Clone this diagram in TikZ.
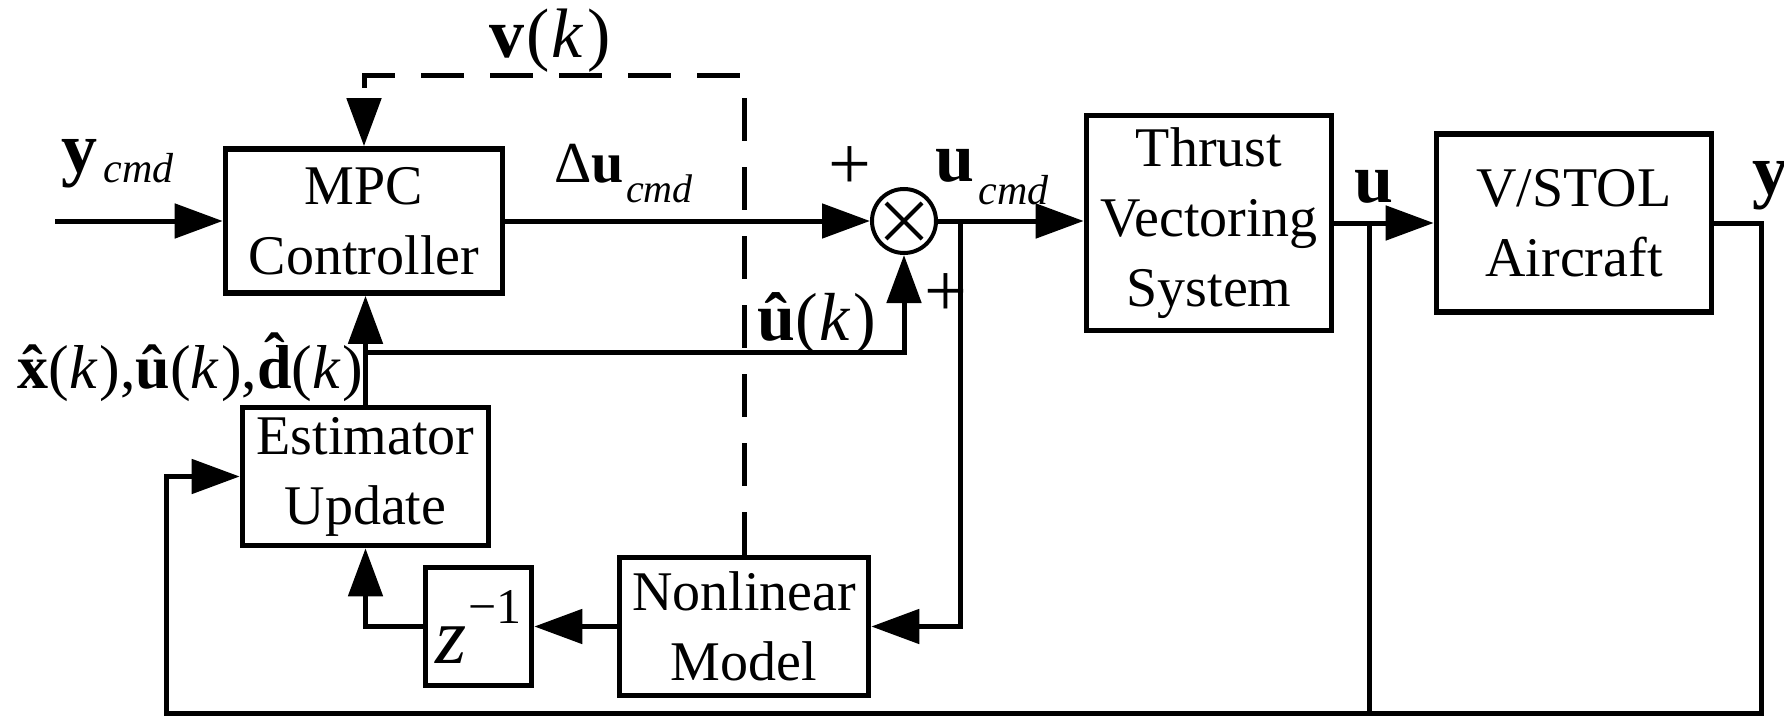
\documentclass[tikz,border=0pt]{standalone}
\usepackage{fontspec}
\setmainfont{Liberation Serif}
\usetikzlibrary{arrows.meta,calc}
\newcommand{\bsz}[1]{\fontsize{#1}{#1}\selectfont}
\newcommand{\hatc}[2]{{\ooalign{#1\cr\hidewidth\raisebox{#2}{ˆ}\hidewidth\cr}}}
\begin{document}
\begin{tikzpicture}[x=0.5pt,y=-0.5pt,
  line width=2.5pt,
  blk/.style={draw,line width=2.8pt,inner sep=0pt,align=center,font=\fontsize{28}{35}\selectfont},
  arr/.style={-{Triangle[length=24pt,width=17pt]}},
  lbl/.style={inner sep=0pt,anchor=base west},
  sgn/.style={inner sep=0pt,anchor=center,font=\fontsize{38}{38}\selectfont},
  dsh/.style={dash pattern=on 21.5pt off 13pt},
]
\useasboundingbox (0,0) rectangle (1784,717);

% blocks
\node[blk,minimum width=138.5pt,minimum height=72pt] (mpc) at (364,221) {MPC\\Controller};
\node[blk,minimum width=122.5pt,minimum height=107.5pt] (tvs) at (1209,223) {Thrust\\Vectoring\\System};
\node[blk,minimum width=137.5pt,minimum height=89pt] (vstol) at (1574,223) {V/STOL\\Aircraft};
\node[blk,minimum width=123pt,minimum height=69pt] (est) at (365.5,476.5) {Estimator\\Update};
\node[blk,minimum width=53pt,minimum height=59pt] (z) at (478.5,626.5) {{\bsz{40}\itshape z}\raisebox{20pt}{\bsz{25}\kern1pt−1}};
\node[blk,minimum width=124.5pt,minimum height=69pt] (nm) at (744,626.5) {Nonlinear\\Model};
\node[draw,circle,line width=2pt,minimum size=32pt,inner sep=0pt] (sum) at (904,221) {};
\draw[line width=2pt] ($(sum)+(-18,-18)$) -- ($(sum)+(18,18)$);
\draw[line width=2pt] ($(sum)+(-18,18)$) -- ($(sum)+(18,-18)$);

% coordinates
\coordinate (in) at (55,221);
\coordinate (j1) at (960,221);
\coordinate (j2) at (1369,223);
\coordinate (j3) at (365.5,352);
\coordinate (br) at (1761,713);
\coordinate (bl) at (166,713);
\coordinate (top) at (364,76);

% connectors
\draw[arr] (in) -- (mpc.west);
\draw[arr] (mpc.east) -- (sum.west);
\draw[arr] (sum.east) -- (sum -| tvs.west);
\draw[arr] (j1) |- (nm.east);
\draw[arr] (tvs.east) -- (vstol.west);
\draw (j2) -- (j2 |- br);
\draw[arr] (vstol.east) -| (br) -| (bl |- est.west) -- (est.west);
\draw[arr] (est.north) -- (est.north |- mpc.south);
\draw[arr] (j3) -| (sum.south);
\draw[arr] (z.west) -| (est.south);
\draw[arr] (nm.west) -- (z.east);
\draw[arr,dsh] (nm.north) |- (top) -- (mpc.north);

% labels
\node[lbl] (lycmd) at (59,172) {\bsz{36}\bfseries y\kern3pt\raisebox{-5.5pt}{\bsz{21}\mdseries\itshape cmd}};
\node[lbl] (lv) at (487,58) {\bsz{35}\textbf{v}\kern1pt(\kern1pt\textit{k}\kern2pt)};
\node[lbl] (ldu) at (552,183) {\bsz{29}Δ\textbf{u}\kern1pt\raisebox{-10pt}{\bsz{20}\itshape cmd}};
\node[lbl] (lucmd) at (933,182) {\bsz{35}\bfseries u\kern2pt\raisebox{-11.5pt}{\bsz{21}\mdseries\itshape cmd}};
\node[lbl] (lu) at (1352,203) {\bsz{35}\bfseries u};
\node[lbl] (ly) at (1750,195) {\bsz{36}\bfseries y};
\node[lbl] (lest) at (15,388) {\bsz{31}\textbf{\hatc{x}{0pt}}(\textit{k}\kern1pt),\textbf{\^u}(\textit{k}\kern1pt),\textbf{\hatc{d}{6pt}}(\textit{k}\kern1pt)};
\node[lbl] (luh) at (755,340) {\bsz{34}\textbf{\^u}(\kern1pt\textit{k}\kern1pt)};
\node[sgn] (p1) at (850,168) {+};
\node[sgn] (p2) at (946,295) {+};
\end{tikzpicture}
\end{document}
